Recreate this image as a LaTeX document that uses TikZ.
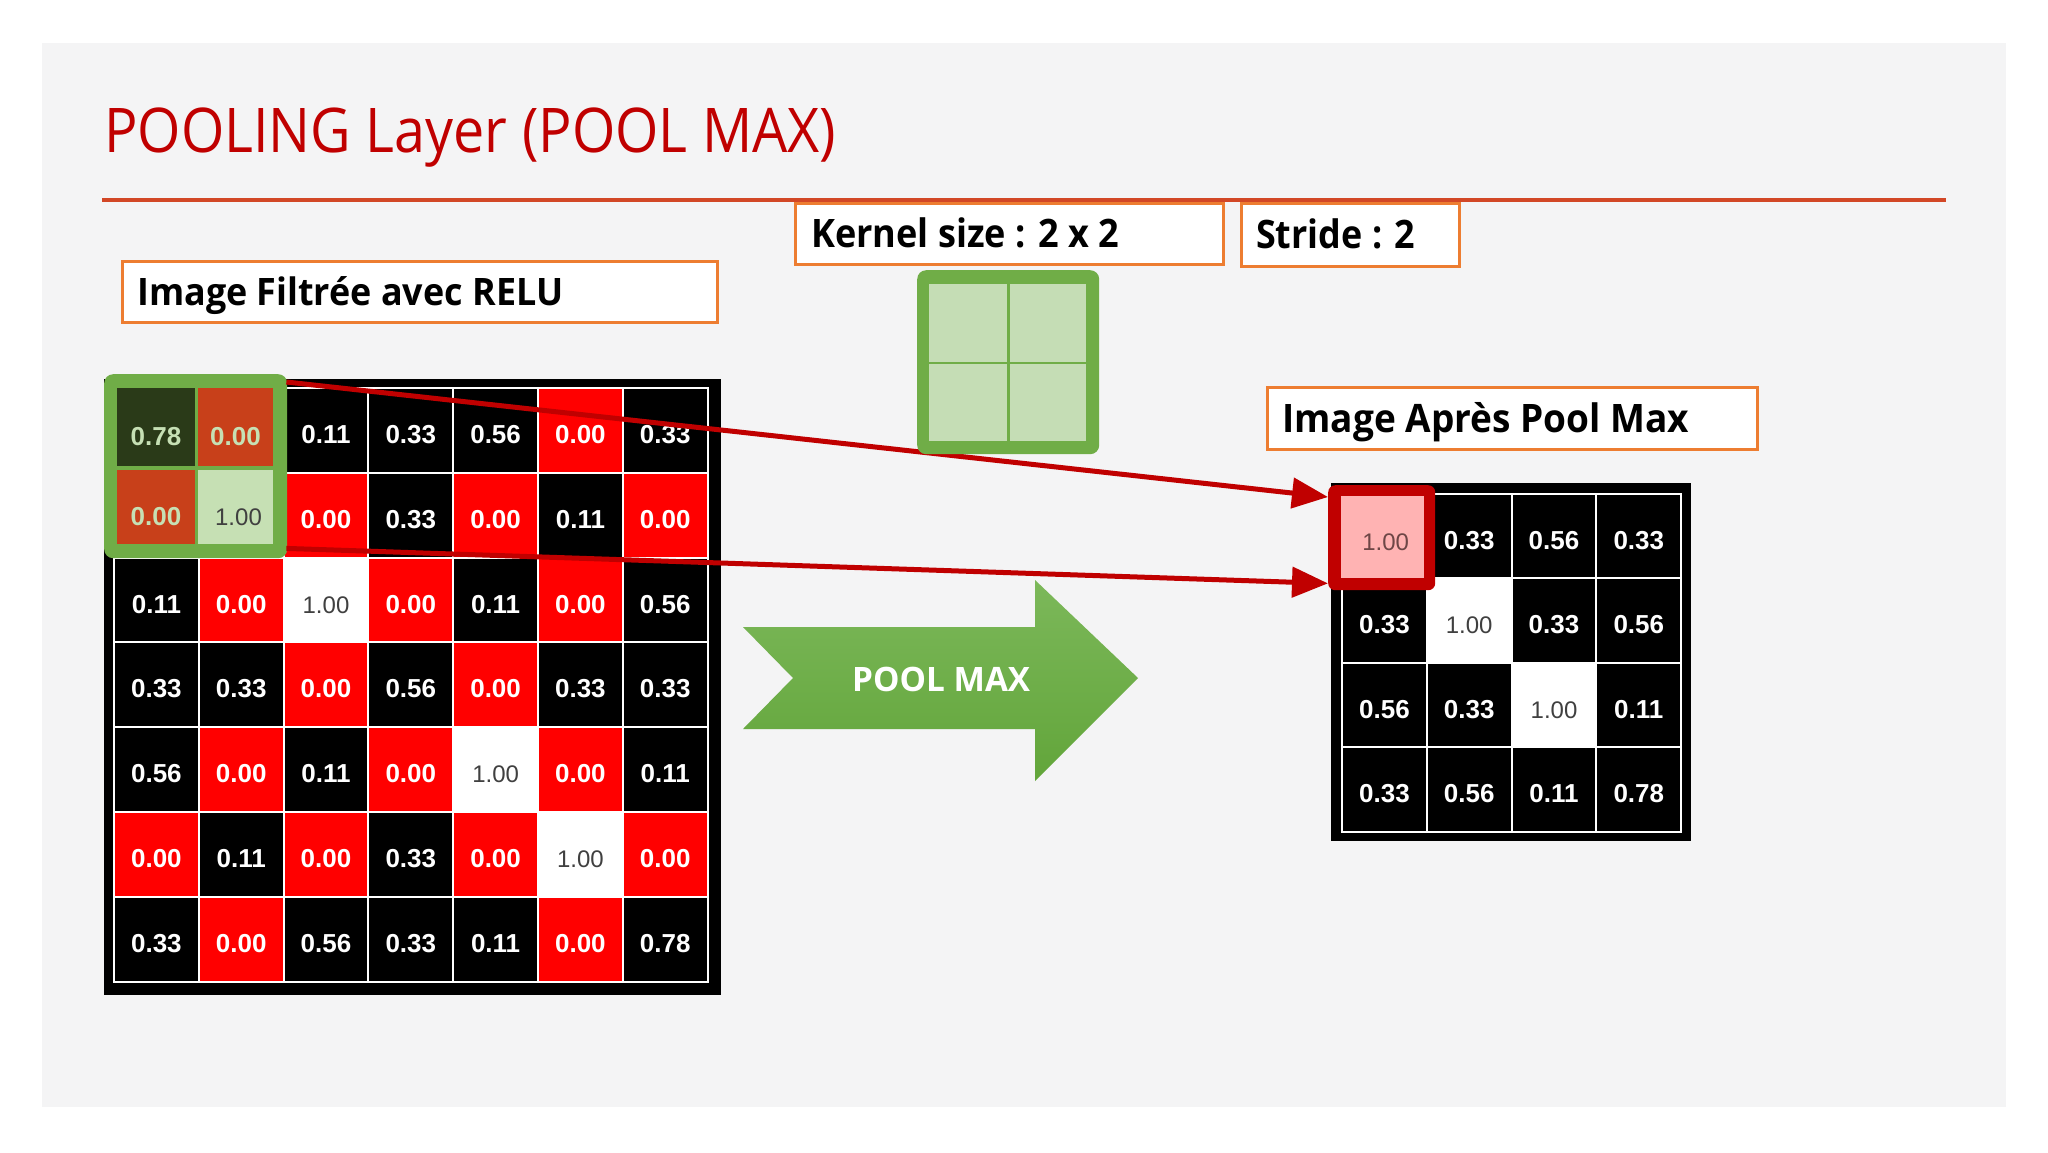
\documentclass[tikz,border=0pt]{standalone}
\usepackage{fontspec}
\setmainfont{Open Sans}
\newfontfamily\numfont{Liberation Sans}
\usetikzlibrary{arrows.meta,calc}
\definecolor{bgray}{RGB}{244,244,245}
\definecolor{titred}{RGB}{192,0,0}
\definecolor{rulec}{RGB}{210,71,38}
\definecolor{boxor}{RGB}{237,125,49}
\definecolor{cred}{RGB}{255,0,0}
\definecolor{kgreen}{RGB}{112,173,71}
\definecolor{klight}{RGB}{197,221,181}
\definecolor{odark}{RGB}{42,58,24}
\definecolor{ored}{RGB}{200,64,26}
\definecolor{olight}{RGB}{198,224,180}
\definecolor{pinkc}{RGB}{255,179,179}
\definecolor{arrred}{RGB}{192,0,0}
\definecolor{onegray}{RGB}{64,64,64}
\definecolor{pinktxt}{RGB}{110,70,70}
\definecolor{agtop}{RGB}{124,184,90}
\definecolor{agbot}{RGB}{98,165,58}
\newcommand{\fitxt}[3]{\resizebox{#1pt}{#2pt}{\fontsize{40}{48}\selectfont\smash{#3}\vphantom{I}}}
\newcommand{\noval}{}
\tikzset{
  labbox/.style={draw=boxor, line width=2.5pt, fill=white, inner sep=0pt, anchor=north west},
  labtxt/.style={inner sep=0pt, anchor=base west, text=black},
  cellbase/.style={minimum width=84.8pt, minimum height=84.8pt, inner sep=0pt, outer sep=0pt,
     draw=white, line width=2pt, text height=26pt, text depth=0pt,
     font=\numfont\fontsize{26}{26}\selectfont\bfseries},
  cK/.style={cellbase, fill=black, text=white},
  cR/.style={cellbase, fill=cred, text=white},
  cW/.style={cellbase, fill=white, text=onegray, font=\numfont\fontsize{24}{24}\selectfont},
  ocell/.style={inner sep=0pt, outer sep=0pt, anchor=north west, text height=36pt, text depth=0pt,
     font=\numfont\fontsize{26}{26}\selectfont\bfseries},
  kcell/.style={fill=klight, inner sep=0pt, anchor=north west},
  redarrow/.style={draw=arrred, line width=5pt, -{Triangle[length=36pt,width=30pt]}},
}
\begin{document}
\begin{tikzpicture}[x=1pt,y=-1pt]
\useasboundingbox (0,0) rectangle (2048,1152);
\fill[white] (0,0) rectangle (2048,1152);
\fill[bgray] (42,43) rectangle (2006,1107);

% title and rule
\node[inner sep=0pt, anchor=base west, text=titred] (title) at (104,152)
  {\fitxt{732}{44}{POOLING Layer (POOL MAX)}};
\coordinate (ruleL) at (102,200);
\coordinate (ruleR) at (1946,200);
\draw[rulec, line width=4pt] (ruleL) -- (ruleR);

% label boxes
\node[labbox, minimum width=595pt, minimum height=61pt] (lab1) at (121,260) {};
\node[labtxt] (lab1t) at (137,305) {\fitxt{426}{27}{\bfseries Image Filtrée avec RELU}};
\node[labbox, minimum width=428pt, minimum height=61pt] (labk) at (794,202) {};
\node[labtxt] (labkt) at (811,247) {\fitxt{308}{28}{\bfseries Kernel size : 2 x 2}};
\node[labbox, minimum width=218pt, minimum height=63pt] (labs) at (1240,202) {};
\node[labtxt] (labst) at (1256,248) {\fitxt{159}{28}{\bfseries Stride : 2}};
\node[labbox, minimum width=490pt, minimum height=62pt] (laba) at (1266,386) {};
\node[labtxt] (labat) at (1282,432) {\fitxt{407}{28}{\bfseries Image Après Pool Max}};

% left matrix (top-left 2x2 values are shown by the green window)
\node[fill=black, inner sep=0pt, minimum width=617pt, minimum height=616pt, anchor=north west] (lmat) at (104,379) {};
\foreach \rowlist [count=\r from 0] in {
 {cK/\noval,cR/\noval,cK/0.11,cK/0.33,cK/0.56,cR/0.00,cK/0.33},
 {cR/\noval,cW/\noval,cR/0.00,cK/0.33,cR/0.00,cK/0.11,cR/0.00},
 {cK/0.11,cR/0.00,cW/1.00,cR/0.00,cK/0.11,cR/0.00,cK/0.56},
 {cK/0.33,cK/0.33,cR/0.00,cK/0.56,cR/0.00,cK/0.33,cK/0.33},
 {cK/0.56,cR/0.00,cK/0.11,cR/0.00,cW/1.00,cR/0.00,cK/0.11},
 {cR/0.00,cK/0.11,cR/0.00,cK/0.33,cR/0.00,cW/1.00,cR/0.00},
 {cK/0.33,cR/0.00,cK/0.56,cK/0.33,cK/0.11,cR/0.00,cK/0.78}}{
  \foreach \s/\v [count=\c from 0] in \rowlist {
    \node[\s] (L-\r-\c) at ({114+42.4+84.8*\c},{388+42.4+84.8*\r}) {\v};
  }
}

% green window over the top-left 2x2
\node[fill=kgreen, rounded corners=9pt, inner sep=0pt, minimum width=183pt, minimum height=184pt, anchor=north west] (kwin) at (104,374) {};
\node[ocell, fill=odark, text=olight, minimum width=78pt, minimum height=78pt] (o00) at (117,388) {0.78};
\node[ocell, fill=ored, text=olight, minimum width=75pt, minimum height=78pt] (o01) at (198,388) {0.00};
\node[ocell, fill=ored, text=olight, minimum width=78pt, minimum height=74pt] (o10) at (117,470) {0.00};
\node[ocell, fill=olight, text=onegray, minimum width=75pt, minimum height=74pt, font=\numfont\fontsize{24}{24}\selectfont] (o11) at (198,470) {\hspace{6pt}1.00};

% right matrix
\node[fill=black, inner sep=0pt, minimum width=360pt, minimum height=358pt, anchor=north west] (rmat) at (1331,483) {};
\foreach \rowlist [count=\r from 0] in {
 {cW/\noval,cK/0.33,cK/0.56,cK/0.33},
 {cK/0.33,cW/1.00,cK/0.33,cK/0.56},
 {cK/0.56,cK/0.33,cW/1.00,cK/0.11},
 {cK/0.33,cK/0.56,cK/0.11,cK/0.78}}{
  \foreach \s/\v [count=\c from 0] in \rowlist {
    \node[\s] (R-\r-\c) at ({1342+42.4+84.8*\c},{494+42.4+84.3*\r}) {\v};
  }
}
\node[fill=arrred, rounded corners=7pt, inner sep=0pt, minimum width=107pt, minimum height=105pt, anchor=north west] (rbox) at (1328,485) {};
\node[fill=pinkc, inner sep=0pt, minimum width=83pt, minimum height=82pt, anchor=north west,
      text=pinktxt, text height=26pt, text depth=0pt, font=\numfont\fontsize{24}{24}\selectfont] (rpink) at (1341,496) {\hspace{6pt}1.00};

% POOL MAX arrow
\shade[top color=agtop, bottom color=agbot]
  (743,627) -- (1035,627) -- (1035,580) -- (1138,678) -- (1035,781) -- (1035,729) -- (743,729) -- (793,678) -- cycle;
\node[inner sep=0pt, anchor=base west, text=white] (pooltxt) at (852,691) {\fitxt{178}{24}{\bfseries POOL MAX}};

% red connectors
\coordinate (s1) at ($(kwin.north east)+(-1,8)$);
\coordinate (s2) at ($(kwin.south east)+(-1,-10)$);
\coordinate (e1) at ($(rbox.north west)+(0,12)$);
\coordinate (e2) at ($(rbox.south west)+(0,-7)$);
\draw[redarrow] (s1) -- (e1);
\draw[redarrow] (s2) -- (e2);

% kernel icon
\node[fill=kgreen, rounded corners=9pt, inner sep=0pt, minimum width=182pt, minimum height=184pt, anchor=north west] (kicon) at (917,270) {};
\node[kcell, minimum width=78pt, minimum height=78pt] (k00) at (929,284) {};
\node[kcell, minimum width=76pt, minimum height=78pt] (k01) at (1010,284) {};
\node[kcell, minimum width=78pt, minimum height=77pt] (k10) at (929,364) {};
\node[kcell, minimum width=76pt, minimum height=77pt] (k11) at (1010,364) {};
\end{tikzpicture}
\end{document}
